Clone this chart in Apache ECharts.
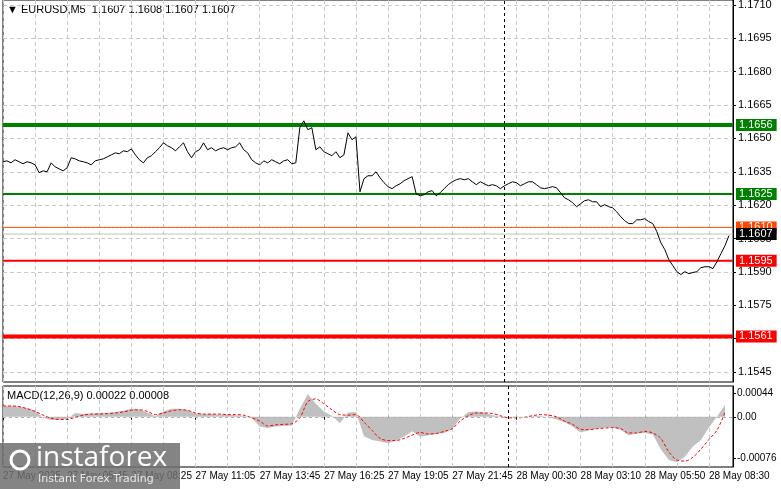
<!DOCTYPE html>
<html><head><meta charset="utf-8">
<script src="https://cdn.jsdelivr.net/npm/echarts@6/dist/echarts.min.js"></script>
<style>html,body{margin:0;padding:0;background:#fff}#c{width:781px;height:489px}</style>
</head><body><div id="c"></div>
<script>
const priceTicks = [1.1545,1.1560,1.1575,1.1590,1.1605,1.1620,1.1635,1.1650,1.1665,1.1680,1.1695,1.1710];
const macdTicks = [-0.00076, 0, 0.00044];
const timeLabels = ['27 May 2025','27 May 05:45','27 May 08:25','27 May 11:05','27 May 13:45','27 May 16:25','27 May 19:05','27 May 21:45','28 May 00:30','28 May 03:10','28 May 05:50','28 May 08:30'];
const close = [
1.16395,1.16399,1.16390,1.16404,1.16395,1.16386,1.16395,1.16390,1.16381,1.16346,
1.16354,1.16350,1.16390,1.16372,1.16363,1.16354,1.16368,1.16413,1.16408,1.16399,
1.16395,1.16390,1.16381,1.16399,1.16404,1.16408,1.16417,1.16426,1.16435,1.16431,
1.16444,1.16440,1.16453,1.16426,1.16404,1.16390,1.16413,1.16422,1.16440,1.16458,
1.16480,1.16467,1.16458,1.16444,1.16462,1.16480,1.16440,1.16413,1.16440,1.16449,
1.16480,1.16449,1.16458,1.16444,1.16453,1.16458,1.16449,1.16458,1.16462,1.16480,
1.16449,1.16435,1.16404,1.16390,1.16381,1.16399,1.16390,1.16404,1.16395,1.16386,
1.16399,1.16404,1.16386,1.16390,1.16548,1.16579,1.16539,1.16548,1.16449,1.16462,
1.16440,1.16431,1.16422,1.16440,1.16413,1.16426,1.16525,1.16494,1.16507,1.16260,
1.16319,1.16332,1.16332,1.16350,1.16323,1.16301,1.16283,1.16274,1.16287,1.16296,
1.16310,1.16319,1.16328,1.16251,1.16242,1.16247,1.16260,1.16265,1.16242,1.16256,
1.16274,1.16292,1.16305,1.16314,1.16319,1.16314,1.16319,1.16305,1.16292,1.16305,
1.16296,1.16287,1.16292,1.16287,1.16274,1.16287,1.16296,1.16305,1.16301,1.16287,
1.16296,1.16305,1.16305,1.16292,1.16278,1.16274,1.16278,1.16283,1.16278,1.16256,
1.16233,1.16224,1.16211,1.16193,1.16206,1.16220,1.16224,1.16215,1.16215,1.16193,
1.16202,1.16193,1.16188,1.16170,1.16148,1.16130,1.16117,1.16117,1.16134,1.16134,
1.16139,1.16126,1.16117,1.16081,1.16031,1.16000,1.15955,1.15928,1.15901,1.15888,
1.15901,1.15892,1.15897,1.15901,1.15919,1.15923,1.15923,1.15915,1.15946,1.15982,
1.16018,1.16063];
const macdHist = [
0.00020,0.00020,0.00019,0.00016,0.00011,-0.00002,-0.00006,-0.00005,-0.00004,0.00007,
0.00005,0.00006,0.00007,0.00007,0.00009,0.00011,0.00015,0.00013,0.00008,0.00001,
0.00010,0.00015,0.00015,0.00012,0.00006,0.00005,0.00005,0.00004,0.00004,0.00003,
0.00002,-0.00002,-0.00018,-0.00021,-0.00018,-0.00017,-0.00016,0.00015,0.00042,0.00024,
0.00010,0.00002,-0.00012,0.00008,0.00009,-0.00036,-0.00043,-0.00046,-0.00049,-0.00044,
-0.00037,-0.00027,-0.00037,-0.00034,-0.00032,-0.00030,-0.00022,-0.00003,0.00009,0.00010,
0.00008,0.00003,0.00001,0.00000,0.00001,0.00000,0.00001,0.00002,-0.00001,-0.00005,
-0.00010,-0.00018,-0.00029,-0.00025,-0.00022,-0.00020,-0.00020,-0.00024,-0.00034,-0.00031,
-0.00030,-0.00033,-0.00060,-0.00080,-0.00084,-0.00074,-0.00055,-0.00043,-0.00020,0.00000,
0.00022];
const macdSignal = [
0.00020,0.00020,0.00019,0.00015,0.00010,0.00003,-0.00003,-0.00005,-0.00005,-0.00001,
0.00003,0.00005,0.00005,0.00006,0.00007,0.00009,0.00012,0.00013,0.00010,0.00004,
0.00007,0.00011,0.00013,0.00012,0.00007,0.00005,0.00005,0.00005,0.00004,0.00004,
0.00003,-0.00002,-0.00008,-0.00017,-0.00015,-0.00014,-0.00013,-0.00002,0.00028,0.00033,
0.00024,0.00013,0.00004,0.00003,0.00004,-0.00010,-0.00025,-0.00040,-0.00044,-0.00044,
-0.00040,-0.00034,-0.00029,-0.00032,-0.00031,-0.00027,-0.00022,-0.00008,0.00002,0.00007,
0.00007,0.00006,0.00002,-0.00002,-0.00002,-0.00001,0.00002,0.00004,0.00003,0.00000,
-0.00008,-0.00014,-0.00023,-0.00024,-0.00022,-0.00021,-0.00020,-0.00022,-0.00030,-0.00030,
-0.00027,-0.00030,-0.00040,-0.00065,-0.00080,-0.00082,-0.00075,-0.00060,-0.00042,-0.00025,
0.00008];
const levelValues = [1.1656, 1.1625, 1.1610, 1.1607, 1.1595, 1.1561];
const levelStyle = [
 {c:'#008000', w:4, bg:'#008000'},
 {c:'#008000', w:2, bg:'#008000'},
 {c:'#ff4500', w:1, bg:'#ff4500'},
 {c:'#c0c0c0', w:1, bg:'#000'},
 {c:'#ff0000', w:2, bg:'#ff0000'},
 {c:'#ff0000', w:4, bg:'#ff0000'}
];
const NMAIN = 183;
const mainCats = Array.from({length:NMAIN},(_,i)=>i);
const macdCats = Array.from({length:92},(_,i)=>i);
const F = 'Liberation Sans';
const levelSeries = levelValues.map((v,k)=>({
  type:'line',xAxisIndex:0,yAxisIndex:0,data:mainCats.map(()=>v),symbol:'none',silent:true,z:3+k*0.1,
  lineStyle:{color:levelStyle[k].c,width:levelStyle[k].w},
  endLabel:{show:true,distance:3,formatter:()=>v.toFixed(4),backgroundColor:levelStyle[k].bg,color:'#fff',fontFamily:F,fontSize:11,padding:[1,4,0,3]}
}));
const chart = echarts.init(document.getElementById('c'));
chart.setOption({
  animation:false,
  grid:[{left:3,top:0,width:730,height:382,show:true,borderColor:'#000',borderWidth:1,outerBoundsMode:'none'},
        {left:3,top:386,width:730,height:81,show:true,borderColor:'#000',borderWidth:1,outerBoundsMode:'none'}],
  xAxis:[
   {type:'category',gridIndex:0,data:mainCats,boundaryGap:false,axisLine:{show:false},axisTick:{show:false},axisLabel:{show:false},
    splitLine:{show:true,interval:7,lineStyle:{color:'#c8c8c8',type:[4,3]}}},
   {type:'category',gridIndex:1,data:macdCats,boundaryGap:false,axisLine:{show:false},
    axisTick:{show:true,interval:(i)=>i%8===0,length:3,lineStyle:{color:'#000'}},
    axisLabel:{interval:(i)=>i%8===0,showMaxLabel:true,showMinLabel:true,hideOverlap:false,align:'left',margin:4,fontFamily:F,fontSize:10,color:'#000',
      formatter:(v)=>timeLabels[Math.round(Number(v)/8)]||''},
    splitLine:{show:true,interval:3,lineStyle:{color:'#c8c8c8',type:[4,3]}}}
  ],
  yAxis:[
   {type:'value',gridIndex:0,position:'right',min:1.15405,max:1.17122,axisLine:{show:true,lineStyle:{color:'#000'}},
    axisTick:{show:true,length:3,customValues:priceTicks},
    axisLabel:{customValues:priceTicks,fontFamily:F,fontSize:11,color:'#000',margin:5,formatter:v=>v.toFixed(4)},
    splitLine:{show:true,lineStyle:{color:'#c8c8c8',type:[4,3]}}},
   {type:'value',gridIndex:1,position:'right',min:-0.00093,max:0.00057,axisLine:{show:true,lineStyle:{color:'#000'}},
    axisTick:{show:true,length:3,customValues:macdTicks},
    axisLabel:{customValues:macdTicks,fontFamily:F,fontSize:10,color:'#000',margin:4,formatter:v=>v===0?'0.00':v.toFixed(5)},
    splitLine:{show:false}}
  ],
  series:levelSeries.concat([
   {type:'line',xAxisIndex:0,yAxisIndex:0,data:close,symbol:'none',lineStyle:{color:'#000',width:1},z:5,
    markLine:{silent:true,symbol:'none',data:[{xAxis:125}],lineStyle:{color:'#000',width:1,type:[3,3]},label:{show:false}}},
   {type:'line',xAxisIndex:1,yAxisIndex:1,data:macdHist,symbol:'none',lineStyle:{width:0},areaStyle:{color:'#c0c0c0',opacity:1},
    markLine:{silent:true,symbol:'none',data:[{yAxis:0}],lineStyle:{color:'#b0b0b0',type:[3,3],width:1},label:{show:false}}},
   {type:'line',xAxisIndex:1,yAxisIndex:1,data:[],
    markLine:{silent:true,symbol:'none',data:[{xAxis:63}],lineStyle:{color:'#000',width:1,type:[3,3]},label:{show:false}}},
   {type:'line',xAxisIndex:1,yAxisIndex:1,data:macdSignal,symbol:'none',smooth:0.3,lineStyle:{color:'#ff0000',width:1,type:[3,2]},z:4}
  ]),
  graphic:[
   {type:'text',left:7,top:4,style:{text:'▼ EURUSD,M5  1.1607 1.1608 1.1607 1.1607',font:'11px "Liberation Sans"',fill:'#000'}},
   {type:'text',left:7,top:390,style:{text:'MACD(12,26,9) 0.00022 0.00008',font:'11px "Liberation Sans"',fill:'#000'}},
   {type:'rect',shape:{x:0,y:443,width:180,height:46},style:{fill:'rgba(110,110,110,0.85)'},z:100},
   {type:'circle',shape:{cx:20,cy:460,r:9},style:{fill:'none',stroke:'#fff',lineWidth:3},z:101},
   {type:'text',left:36,top:444,z:101,style:{text:'instaforex',font:'28px "Open Sans"',fill:'#fff'}},
   {type:'text',left:38,top:474,z:101,style:{text:'Instant Forex Trading',font:'11px "DejaVu Sans"',fill:'#e8e8e8'}}
  ]
});
</script></body></html>
